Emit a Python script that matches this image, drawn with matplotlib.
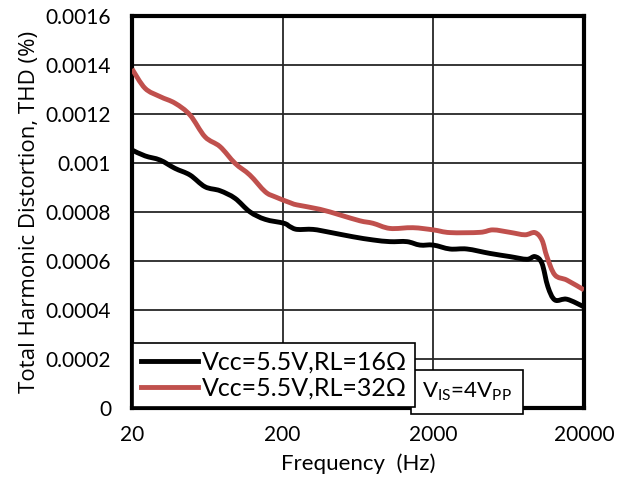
import matplotlib
matplotlib.use("Agg")
import matplotlib.pyplot as plt
import numpy as np
from matplotlib.lines import Line2D
from matplotlib.patches import PathPatch
from matplotlib.path import Path
from matplotlib.ticker import FixedLocator, NullLocator

plt.rcParams["font.family"] = ["Lato", "DejaVu Sans"]
plt.rcParams["mathtext.fontset"] = "custom"
plt.rcParams["mathtext.rm"] = "Lato"

# Vcc=5.5V, RL=16 ohm (black)
freq_16 = [20, 24.4, 30.7, 38.6, 48.5, 61, 76.7, 96.5, 121, 153, 204, 224, 249,
           318, 412, 585, 795, 1030, 1336, 1630, 2000, 2578, 3342, 4748, 6448,
           8358, 9446, 10510, 11520, 12820, 15400, 20000]
thd_16 = [0.001053, 0.001029, 0.001012, 0.000978, 0.000951, 0.000903, 0.000887,
          0.000856, 0.000801, 0.000770, 0.000754, 0.000740, 0.000729, 0.000729,
          0.000717, 0.000699, 0.000686, 0.000679, 0.000679, 0.000665, 0.000665,
          0.000649, 0.000649, 0.000631, 0.000618, 0.000607, 0.000618, 0.000591,
          0.000495, 0.000441, 0.000444, 0.000413]

# Vcc=5.5V, RL=32 ohm (red)
freq_32 = [20, 24.4, 30.7, 38.6, 48.5, 61, 76.7, 96.5, 121, 153, 178, 224, 249,
           354, 480, 652, 795, 1030, 1464, 2000, 2578, 4076, 4972, 6448, 8106,
           9446, 10510, 11346, 12820, 15400, 20000]
thd_32 = [0.001384, 0.001305, 0.001271, 0.001244, 0.001196, 0.001107, 0.001067,
          0.000999, 0.000951, 0.000883, 0.000862, 0.000838, 0.000829, 0.000811,
          0.000788, 0.000764, 0.000754, 0.000733, 0.000736, 0.000727, 0.000716,
          0.000717, 0.000727, 0.000717, 0.000707, 0.000716, 0.000686, 0.000618,
          0.000543, 0.000522, 0.000482]

labels = ["Vcc=5.5V,RL=16Ω", "Vcc=5.5V,RL=32Ω"]
colors = ["black", "#C0504D"]

x_ticks = [20, 200, 2000, 20000]
y_ticks = [0, 0.0002, 0.0004, 0.0006, 0.0008, 0.001, 0.0012, 0.0014, 0.0016]
y_labels = ["0", "0.0002", "0.0004", "0.0006", "0.0008", "0.001", "0.0012", "0.0014", "0.0016"]


def smooth_path(xs, ys):
    """Excel-style smoothed line: Catmull-Rom segments as cubic Beziers in log-x space."""
    pts = np.column_stack([np.log10(xs), ys])
    n = len(pts)
    verts = [pts[0]]
    codes = [Path.MOVETO]
    for i in range(n - 1):
        p0 = pts[max(i - 1, 0)]
        p1 = pts[i]
        p2 = pts[i + 1]
        p3 = pts[min(i + 2, n - 1)]
        verts += [p1 + (p2 - p0) / 6, p2 - (p3 - p1) / 6, p2]
        codes += [Path.CURVE4] * 3
    verts = np.array(verts)
    verts[:, 0] = 10 ** verts[:, 0]
    return Path(verts, codes)


fig = plt.figure(figsize=(6.26, 4.79), dpi=100)
ax = fig.add_axes([0.2109, 0.1482, 0.722, 0.8184])

for xs, ys, c in [(freq_16, thd_16, colors[0]), (freq_32, thd_32, colors[1])]:
    ax.add_patch(PathPatch(smooth_path(xs, ys), fill=False, ec=c, lw=3.5,
                           joinstyle="round", capstyle="butt", zorder=3))

ax.set_xscale("log")
ax.set_xlim(20, 20000)
ax.set_ylim(0, 0.0016)
ax.xaxis.set_major_locator(FixedLocator(x_ticks))
ax.xaxis.set_minor_locator(NullLocator())
ax.set_xticklabels([str(t) for t in x_ticks])
ax.set_yticks(y_ticks)
ax.set_yticklabels(y_labels)
ax.tick_params(length=0, labelsize=15)
ax.tick_params(axis="y", pad=15)
ax.tick_params(axis="x", pad=12)

ax.grid(True, color="#262626", lw=1.3)
ax.set_axisbelow(True)
for s in ax.spines.values():
    s.set_linewidth(3)
    s.set_color("black")

ax.set_xlabel("Frequency  (Hz)", fontsize=16, labelpad=6)
ax.set_ylabel("Total Harmonic Distortion, THD (%)", fontsize=16,
              family="Open Sans", labelpad=4)

handles = [Line2D([], [], color=c, lw=3.5) for c in colors]
leg = ax.legend(handles, labels, loc="lower left", fontsize=18, frameon=True,
                fancybox=False, edgecolor="black", borderaxespad=0.05,
                handlelength=2.3, borderpad=0.3, labelspacing=0.12,
                handletextpad=0.15)
leg.get_frame().set_linewidth(1.2)
leg.get_frame().set_alpha(1)
leg.set_zorder(6)

ax.text(0.742, 0.012, r"V$_{\rm IS}$=4V$_{\rm PP}$", transform=ax.transAxes,
        fontsize=16, ha="center", va="bottom",
        bbox=dict(boxstyle="square,pad=0.5", fc="white", ec="black", lw=1.2),
        zorder=5)

fig.savefig("out.png", dpi=100)
